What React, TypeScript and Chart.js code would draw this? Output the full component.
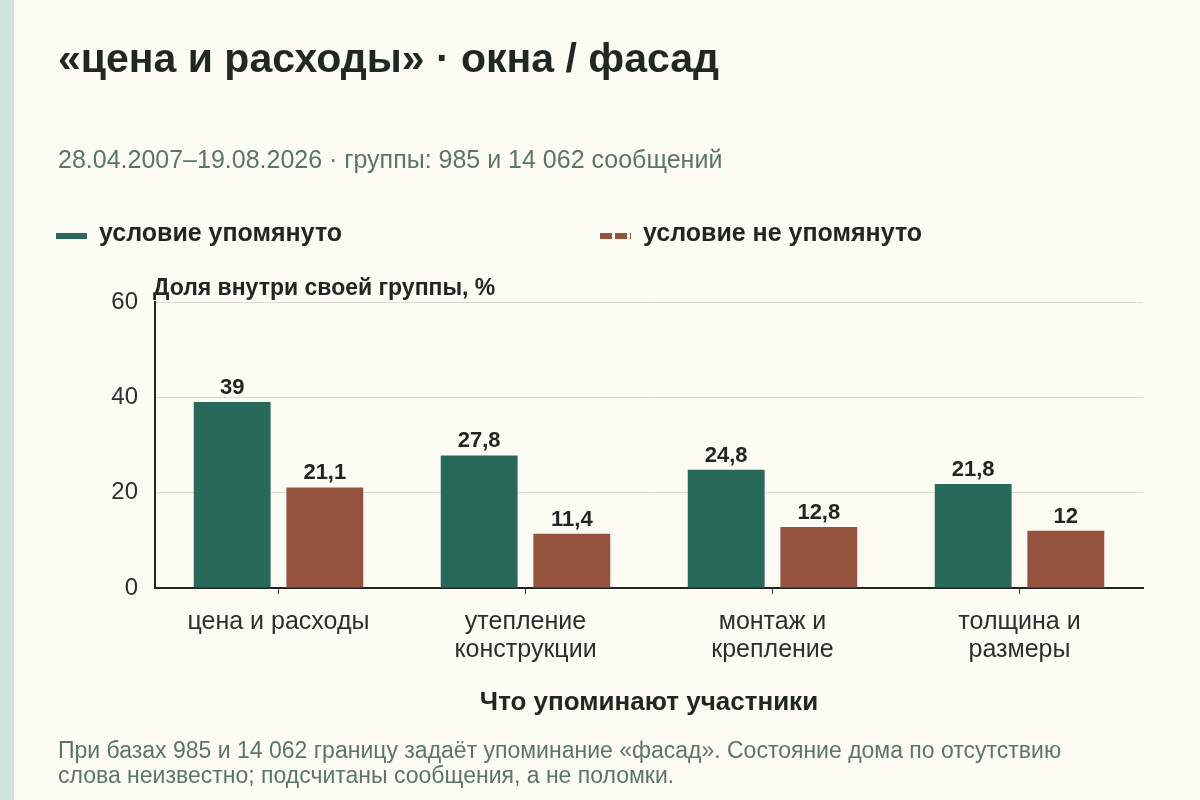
import { useEffect, useRef } from 'react';
import { Chart, registerables } from 'chart.js';

Chart.register(...registerables);

// data
const categories: (string | string[])[] = [
  'цена и расходы',
  ['утепление', 'конструкции'],
  ['монтаж и', 'крепление'],
  ['толщина и', 'размеры'],
];
const mentioned = [39, 27.8, 24.8, 21.8];
const notMentioned = [21.1, 11.4, 12.8, 12];
const yTicks = [0, 20, 40, 60];

const FONT = '"Liberation Sans", Arial, Helvetica, sans-serif';
const GREEN = '#28695a';
const RED = '#95523f';
const MUTED = '#5b756b';
const INK = '#222622';

const valueLabels = {
  id: 'valueLabels',
  afterDatasetsDraw(chart: any) {
    const ctx = chart.ctx;
    ctx.save();
    ctx.font = `bold 22px ${FONT}`;
    ctx.fillStyle = INK;
    ctx.textAlign = 'center';
    ctx.textBaseline = 'alphabetic';
    chart.data.datasets.forEach((ds: any, i: number) => {
      chart.getDatasetMeta(i).data.forEach((bar: any, j: number) => {
        const v = ds.data[j] as number;
        ctx.fillText(String(v).replace('.', ','), bar.x, bar.y - 8);
      });
    });
    ctx.restore();
  },
};

// place text by its baseline (line-height equals font size)
const textAt = (left: number, baseline: number, size: number) => ({
  position: 'absolute' as const,
  left,
  top: baseline - size * 0.8465,
  fontSize: size,
  lineHeight: `${size}px`,
  whiteSpace: 'nowrap' as const,
});

export default function App() {
  const chartRef = useRef<HTMLCanvasElement>(null);
  const chartInstance = useRef<Chart | null>(null);

  useEffect(() => {
    if (chartInstance.current) chartInstance.current.destroy();
    if (!chartRef.current) return;

    chartInstance.current = new Chart(chartRef.current, {
      type: 'bar',
      data: {
        labels: categories,
        datasets: [
          {
            label: 'условие упомянуто',
            data: mentioned,
            backgroundColor: GREEN,
            categoryPercentage: 0.75,
            barPercentage: 0.83,
          },
          {
            label: 'условие не упомянуто',
            data: notMentioned,
            backgroundColor: RED,
            categoryPercentage: 0.75,
            barPercentage: 0.83,
          },
        ],
      },
      options: {
        animation: false,
        responsive: true,
        maintainAspectRatio: false,
        layout: { padding: { left: 0, top: 302, right: 57, bottom: 0 } },
        plugins: {
          legend: { display: false },
          tooltip: { enabled: false },
        },
        scales: {
          x: {
            afterFit: (scale: any) => {
              scale.height = 212;
            },
            grid: {
              display: true,
              drawOnChartArea: false,
              offset: false,
              tickLength: 6,
              color: '#333',
              lineWidth: 1,
            },
            border: { display: true, color: INK, width: 2 },
            ticks: {
              padding: 14,
              color: '#2e2e2e',
              font: { family: FONT, size: 25, lineHeight: 1.12 },
            },
          },
          y: {
            min: yTicks[0],
            max: yTicks[yTicks.length - 1],
            afterFit: (scale: any) => {
              scale.width = 155;
            },
            afterBuildTicks: (scale: any) => {
              scale.ticks = yTicks.map((v) => ({ value: v }));
            },
            grid: {
              color: '#dcdcd2',
              lineWidth: 1,
              drawTicks: false,
            },
            border: { display: true, color: INK, width: 2 },
            ticks: {
              padding: 17,
              color: '#2e2e2e',
              font: { family: FONT, size: 24 },
            },
          },
        },
      },
      plugins: [valueLabels],
    });

    return () => {
      if (chartInstance.current) {
        chartInstance.current.destroy();
        chartInstance.current = null;
      }
    };
  }, []);

  return (
    <div
      style={{
        position: 'absolute',
        left: 0,
        top: 0,
        width: 1200,
        height: 800,
        background: '#fdfcf4',
        fontFamily: FONT,
        color: INK,
        overflow: 'hidden',
      }}
    >
      <div style={{ position: 'absolute', left: 0, top: 0, width: 14, height: 800, background: '#cfe3dc' }} />

      <div style={{ position: 'absolute', left: 0, top: 0, width: 1200, height: 800 }}>
        <canvas ref={chartRef}></canvas>
      </div>

      <div style={{ ...textAt(58, 73, 41), fontWeight: 700, color: '#1f2822' }}>
        «цена и расходы» · окна / фасад
      </div>
      <div style={{ ...textAt(58, 168, 25), color: MUTED }}>
        28.04.2007–19.08.2026 · группы: 985 и 14 062 сообщений
      </div>

      {/* Legend */}
      <div style={{ position: 'absolute', left: 56, top: 233, width: 31, height: 6, background: GREEN }} />
      <div style={{ ...textAt(99, 241, 25), fontWeight: 700 }}>условие упомянуто</div>
      <div
        style={{
          position: 'absolute',
          left: 600,
          top: 233,
          width: 31,
          height: 6,
          background: `repeating-linear-gradient(to right, ${RED} 0 12px, transparent 12px 15px)`,
        }}
      />
      <div style={{ ...textAt(643, 241, 25), fontWeight: 700 }}>условие не упомянуто</div>

      <div style={{ ...textAt(153, 295, 23), fontWeight: 700 }}>Доля внутри своей группы, %</div>

      <div
        style={{
          ...textAt(149, 710, 26),
          width: 1000,
          textAlign: 'center',
          fontWeight: 700,
        }}
      >
        Что упоминают участники
      </div>

      <div
        style={{
          position: 'absolute',
          left: 58,
          top: 738,
          fontSize: 23,
          lineHeight: '25px',
          color: MUTED,
          whiteSpace: 'nowrap',
        }}
      >
        При базах 985 и 14 062 границу задаёт упоминание «фасад». Состояние дома по отсутствию
        <br />
        слова неизвестно; подсчитаны сообщения, а не поломки.
      </div>
    </div>
  );
}
